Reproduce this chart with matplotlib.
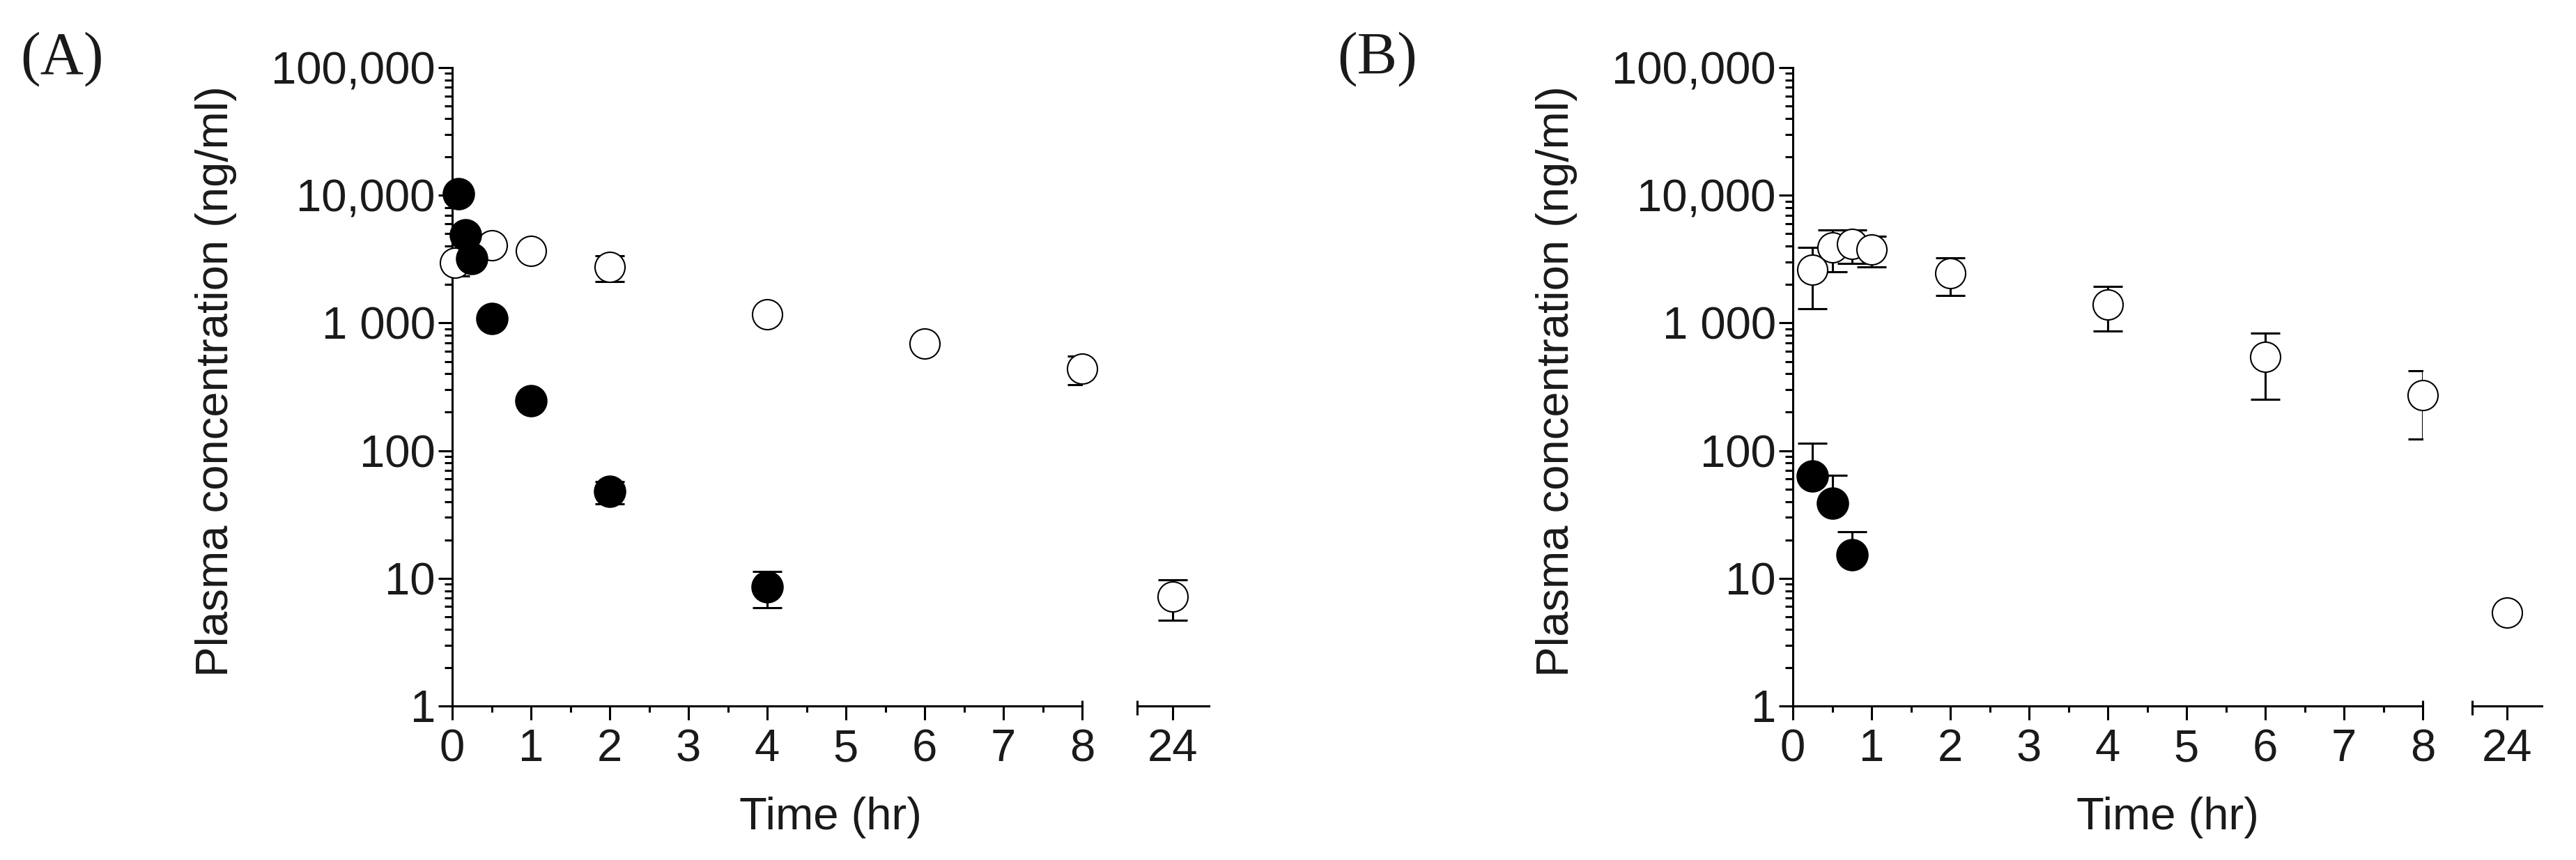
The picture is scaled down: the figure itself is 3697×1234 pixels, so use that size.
import numpy as np
import matplotlib.pyplot as plt
from matplotlib.ticker import LogLocator, MultipleLocator, NullFormatter, FixedLocator

plt.rcParams['font.family'] = ['Liberation Sans', 'DejaVu Sans']

# ---- data (hr, ng/ml, SD) ----
# panel A
a_fill_t = [0.083, 0.167, 0.25, 0.5, 1, 2, 4]
a_fill_y = [10300, 4900, 3200, 1080, 245, 48, 8.6]
a_fill_lo = [0, 0, 0, 0, 0, 9.5, 2.7]
a_fill_hi = [0, 0, 0, 0, 0, 9.5, 2.7]

a_open_t = [0.033, 0.5, 1, 2, 4, 6, 8, 24]
a_open_y = [2950, 4050, 3650, 2740, 1170, 690, 440, 7.2]
a_open_lo = [630, 0, 0, 640, 0, 0, 112, 2.5]
a_open_hi = [630, 0, 0, 640, 0, 0, 112, 2.5]

# panel B
b_fill_t = [0.25, 0.5, 0.75]
b_fill_y = [63, 39, 15.3]
b_fill_lo = [0, 0, 0]
b_fill_hi = [51, 25, 8]

b_open_t = [0.25, 0.5, 0.75, 1, 2, 4, 6, 8, 24]
b_open_y = [2600, 3930, 4140, 3750, 2440, 1390, 543, 273, 5.4]
b_open_lo = [1300, 1400, 1200, 1000, 800, 530, 290, 150, 0]
b_open_hi = [1300, 1400, 1200, 1000, 800, 530, 290, 150, 0]

y_ticks = [1, 10, 100, 1000, 10000, 100000]
y_ticklabels = ['1', '10', '100', '1 000', '10,000', '100,000']
x_ticks = [0, 1, 2, 3, 4, 5, 6, 7, 8]
x_break_tick = [24]

W, H = 3697, 1234
LW = 2.2
FS = 47
TXT = '#1a1a1a'

fig = plt.figure(figsize=(W / 100, H / 100), dpi=100)


def px_ax(x0, x1, y0=97, y1=1013):
    return fig.add_axes((x0 / W, 1 - y1 / H, (x1 - x0) / W, (y1 - y0) / H))


def style_common(ax):
    ax.set_yscale('log')
    ax.set_ylim(1, 1e5)
    ax.spines['top'].set_visible(False)
    ax.spines['right'].set_visible(False)
    ax.spines['bottom'].set_linewidth(LW)
    ax.spines['left'].set_linewidth(LW)
    ax.tick_params(which='major', length=14.4, width=LW, labelsize=FS,
                   colors='black', labelcolor=TXT)
    ax.tick_params(axis='x', which='major', pad=9)
    ax.tick_params(axis='y', which='major', pad=3)
    ax.tick_params(which='minor', width=LW)
    ax.tick_params(axis='y', which='minor', length=8)
    ax.tick_params(axis='x', which='minor', length=6.7)


def draw_series(ax, t, y, lo, hi, filled, xr):
    t = np.asarray(t, float)
    y = np.asarray(y, float)
    lo = np.asarray(lo, float)
    hi = np.asarray(hi, float)
    m = (t >= xr[0] - 0.5) & (t <= xr[1])
    if not m.any():
        return
    ax.errorbar(t[m], y[m], yerr=[lo[m], hi[m]], fmt='none', ecolor='black',
                elinewidth=LW, capsize=15, capthick=LW, zorder=2)
    if filled:
        ax.plot(t[m], y[m], 'o', ms=32, mfc='black', mec='black', mew=1.5,
                clip_on=False, zorder=4)
    else:
        ax.plot(t[m], y[m], 'o', ms=31, mfc='white', mec='black', mew=1.5,
                clip_on=False, zorder=3)


def panel(xm0, xb0, xb1, letter, letter_x, ylab_x, fill, opn):
    xm1 = xm0 + 904
    ax = px_ax(xm0, xm1)
    axb = px_ax(xb0, xb1)
    style_common(ax)
    style_common(axb)

    ax.set_xlim(0, 8)
    ax.xaxis.set_major_locator(FixedLocator(x_ticks))
    ax.set_xticklabels([str(v) for v in x_ticks])
    ax.xaxis.set_minor_locator(MultipleLocator(0.5))
    ax.set_yticks(y_ticks)
    ax.set_yticklabels(y_ticklabels)
    ax.yaxis.set_minor_locator(LogLocator(base=10, subs=np.arange(2, 10)))
    ax.yaxis.set_minor_formatter(NullFormatter())

    # same hr/px scale as the main segment (113 px per hr)
    half_w = (xb1 - xb0) / 2 / 113
    axb.set_xlim(24 - half_w, 24 + half_w)
    axb.set_xticks(x_break_tick)
    axb.set_xticklabels([str(v) for v in x_break_tick])
    axb.xaxis.set_minor_locator(FixedLocator([]))
    axb.spines['left'].set_visible(False)
    axb.set_yticks([])
    axb.yaxis.set_minor_locator(FixedLocator([]))
    axb.patch.set_alpha(0)

    # break marks at the segment ends
    ax.plot([8, 8], [0, 8 / 916], transform=ax.get_xaxis_transform(),
            color='black', lw=LW, clip_on=False, solid_capstyle='butt')
    xl = axb.get_xlim()[0]
    axb.plot([xl, xl], [-13 / 916, 8 / 916], transform=axb.get_xaxis_transform(),
             color='black', lw=LW, clip_on=False, solid_capstyle='butt')

    for a, xr in ((ax, (0, 8)), (axb, (23, 25))):
        draw_series(a, *opn, filled=False, xr=xr)
        draw_series(a, *fill, filled=True, xr=xr)

    fig.text(ylab_x / W, 1 - 547 / H, 'Plasma concentration (ng/ml)',
             rotation=90, ha='center', va='center', fontsize=FS, color=TXT)
    fig.text(((xm0 + xb1) / 2) / W, 1 - 1173 / H, 'Time (hr)',
             ha='center', va='center', fontsize=FS, color=TXT)
    fig.text(letter_x / W, 1 - 85 / H, letter, ha='center', va='center',
             fontsize=62, family=['Liberation Serif', 'DejaVu Serif'], color=TXT)


panel(649, 1632, 1735, '(A)', 89, 310,
      (a_fill_t, a_fill_y, a_fill_lo, a_fill_hi),
      (a_open_t, a_open_y, a_open_lo, a_open_hi))
panel(2573, 3548, 3648, '(B)', 1977, 2234,
      (b_fill_t, b_fill_y, b_fill_lo, b_fill_hi),
      (b_open_t, b_open_y, b_open_lo, b_open_hi))

fig.savefig('out.png', dpi=100, facecolor='white')
